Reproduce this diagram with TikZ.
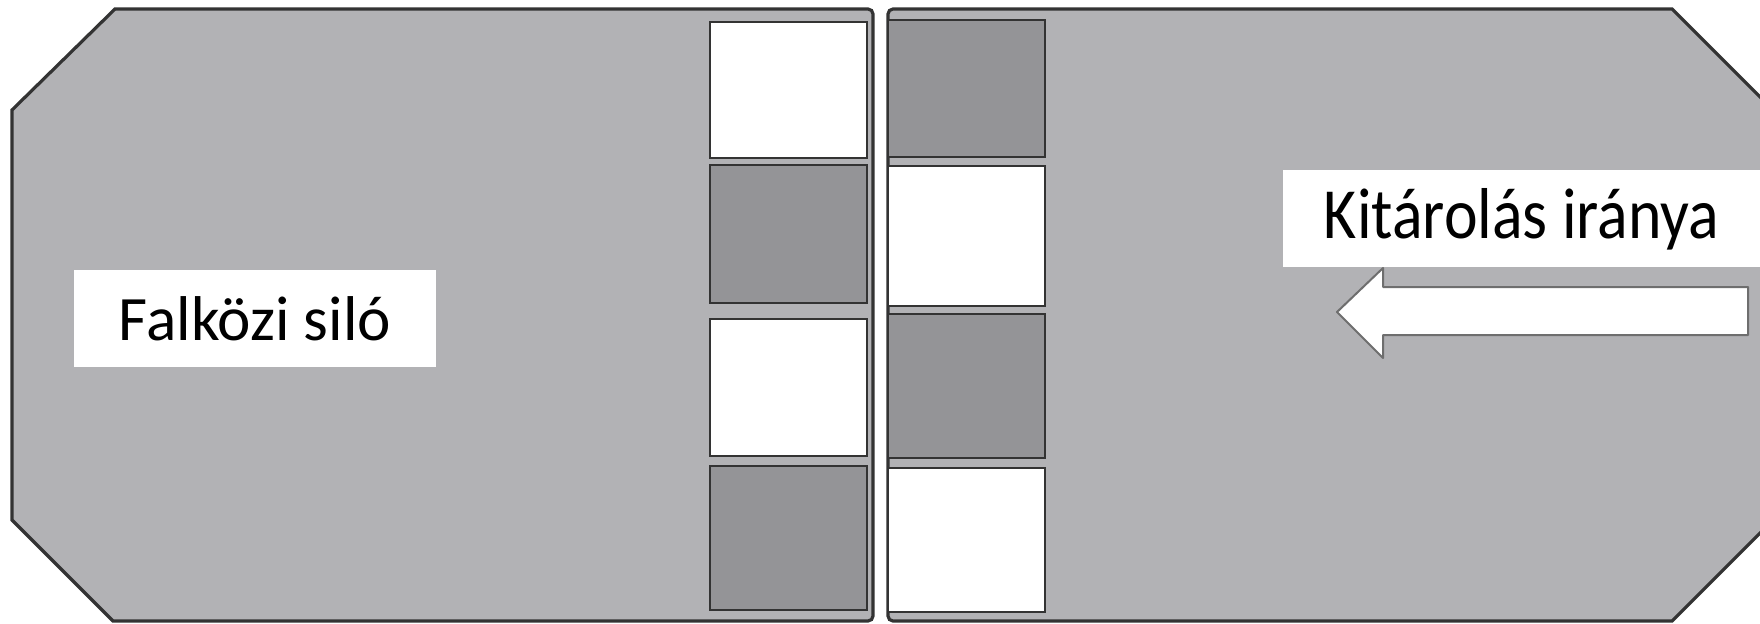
\documentclass[tikz,border=0pt]{standalone}
\usepackage{fontspec}
\setmainfont{Carlito}
\usepackage{graphicx}
\usetikzlibrary{positioning}
\definecolor{silogray}{HTML}{B2B2B5}
\definecolor{celldark}{HTML}{949497}
\definecolor{edgegray}{HTML}{333333}
\definecolor{arrowedge}{HTML}{6E6E6E}

\begin{document}
\begin{tikzpicture}[x=0.1mm, y=-0.1mm,
    panel/.style={draw=edgegray, line width=0.32mm, fill=silogray},
    cell/.style={draw=edgegray, line width=0.2mm, rectangle, inner sep=0pt, minimum width=15.7mm},
    lightcell/.style={cell, fill=white},
    darkcell/.style={cell, fill=celldark},
    namebox/.style={fill=white, inner sep=0pt, text depth=0pt, minimum height=9.7mm}]
    \useasboundingbox (0,0) rectangle (1760,623);

    % Left silo panel
    \draw[panel] (500,9) [rounded corners=0.5mm] -- (873,9) -- (873,621) -- (500,621)
        [sharp corners] -- (113,621) -- (12,520) -- (12,110) -- (115,9) -- cycle;

    % Right silo panel
    \draw[panel] (1300,621) [rounded corners=0.5mm] -- (888,621) -- (888,9) -- (1300,9)
        [sharp corners] -- (1672,9) -- (1775,112) -- (1775,518) -- (1672,621) -- cycle;

    % Left column of units
    \node[lightcell, minimum height=13.6mm] (left1) at (788,90) {};
    \node[darkcell, minimum height=13.8mm] (left2) at (788,234) {};
    \node[lightcell, minimum height=13.7mm] (left3) at (788,387.5) {};
    \node[darkcell, minimum height=14.4mm] (left4) at (788,538) {};

    % Right column of units
    \node[darkcell, minimum height=13.7mm] (right1) at (966,88.5) {};
    \node[lightcell, minimum height=14.0mm] (right2) at (966,236) {};
    \node[darkcell, minimum height=14.4mm] (right3) at (966,386) {};
    \node[lightcell, minimum height=14.4mm] (right4) at (966,540) {};

    % Silo name
    \node[namebox, minimum width=36.2mm, text height=4.3mm, font=\fontsize{18}{20}\selectfont] (siloname) at (255,318.5) {Falközi siló};

    % Direction label
    \node[namebox, minimum width=47.7mm, text height=4.1mm, font=\fontsize{20.5}{23}\selectfont] (direction) at (1521.5,218.3) {\scalebox{0.885}[1]{Kitárolás iránya}};

    % Direction arrow
    \draw[draw=arrowedge, line width=0.2mm, fill=white, line join=round]
        (1337,312) -- (1383,268) -- (1383,287) -- (1748,287) -- (1748,335) -- (1383,335) -- (1383,358) -- cycle;
\end{tikzpicture}
\end{document}
